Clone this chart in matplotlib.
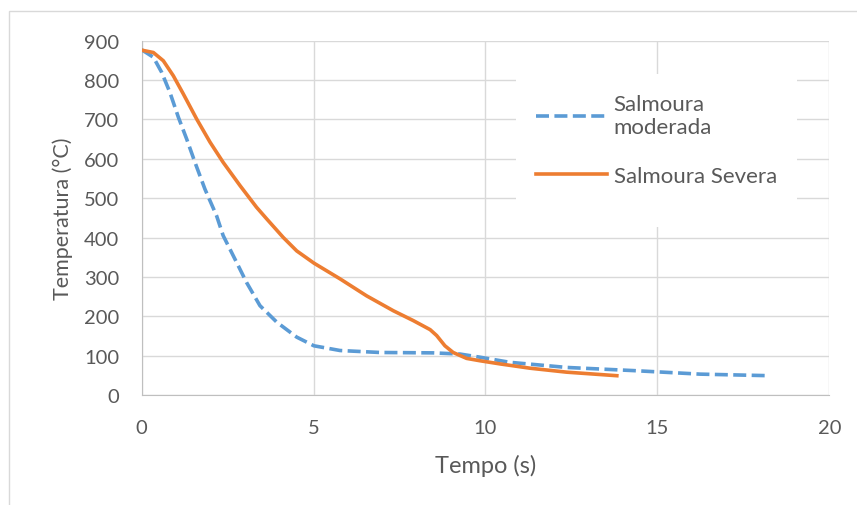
import matplotlib.pyplot as plt
from matplotlib.patches import Rectangle

# Salmoura moderada (linha tracejada azul)
tempo_mod = [0, 0.34, 0.58, 0.82, 1.07, 1.31, 1.55, 1.84, 2.18, 2.37, 2.76, 3.05,
             3.44, 3.93, 4.51, 5.01, 5.77, 6.93, 8.48, 9.26, 9.84, 10.71, 12.36,
             14.3, 16.24, 18.27]
temp_mod = [877, 858, 820, 769, 705, 650, 591, 523, 455, 405, 337, 286,
            227, 185, 147, 125, 113, 108, 107, 104, 96, 83, 70,
            62, 53, 49]

# Salmoura severa (linha continua laranja)
tempo_sev = [0, 0.34, 0.63, 0.92, 1.21, 1.6, 1.99, 2.37, 2.86, 3.34, 3.64, 4.12,
             4.51, 5.01, 5.77, 6.54, 7.32, 7.9, 8.39, 8.58, 8.82, 9.06, 9.45,
             9.84, 10.42, 11.3, 12.36, 13.82]
temp_sev = [876, 870, 849, 811, 765, 701, 642, 591, 532, 477, 447, 400,
            366, 335, 295, 252, 214, 189, 166, 151, 125, 108, 93,
            87, 79, 68, 58, 49]

cinza = '#595959'
plt.rcParams['font.family'] = ['Lato', 'DejaVu Sans']

fig = plt.figure(figsize=(8.57, 5.06), dpi=100)
# moldura externa do grafico
fig.patches.append(Rectangle((9/857, -0.1), 1, 1.1 - 12/506, transform=fig.transFigure,
                             fill=False, edgecolor='#D9D9D9', linewidth=1))
ax = fig.add_axes([0.1653, 0.2174, 0.8024, 0.7002])

ax.plot(tempo_mod, temp_mod, color='#5B9BD5', lw=2.6, ls=(0, (3.6, 1.5)),
        label='Salmoura\nmoderada', zorder=3)
ax.plot(tempo_sev, temp_sev, color='#ED7D31', lw=2.6, label='Salmoura Severa',
        zorder=3, solid_joinstyle='round')

ax.set_xlim(0, 20)
ax.set_ylim(0, 900)
ax.set_xticks(range(0, 21, 5))
ax.set_yticks(range(0, 901, 100))
ax.grid(True, color='#D9D9D9', lw=1)
ax.set_axisbelow(True)
for s in ['top', 'right']:
    ax.spines[s].set_visible(False)
for s in ['left', 'bottom']:
    ax.spines[s].set_color('#BFBFBF')
ax.tick_params(length=0, labelsize=14.5, colors=cinza)
ax.tick_params(axis='y', pad=16)
ax.tick_params(axis='x', pad=17)
ax.set_xlabel('Tempo (s)', fontsize=17, color=cinza, labelpad=13)
ax.set_ylabel('Temperatura (°C)', fontsize=15.5, color=cinza, labelpad=8)

# fundo branco da legenda (cobre a grade)
ax.add_patch(Rectangle((516/857, 1 - 228/506), 281/857, 153/506,
                       transform=fig.transFigure, facecolor='white',
                       edgecolor='none', zorder=2))
leg = ax.legend(loc='upper left', bbox_to_anchor=(516/857, 1 - 75/506),
                bbox_transform=fig.transFigure, frameon=False,
                fontsize=16, handlelength=3.2, handletextpad=0.3,
                labelspacing=1.3, borderpad=0.9, borderaxespad=0)
for t in leg.get_texts():
    t.set_color(cinza)

fig.savefig('out.png', dpi=100)
